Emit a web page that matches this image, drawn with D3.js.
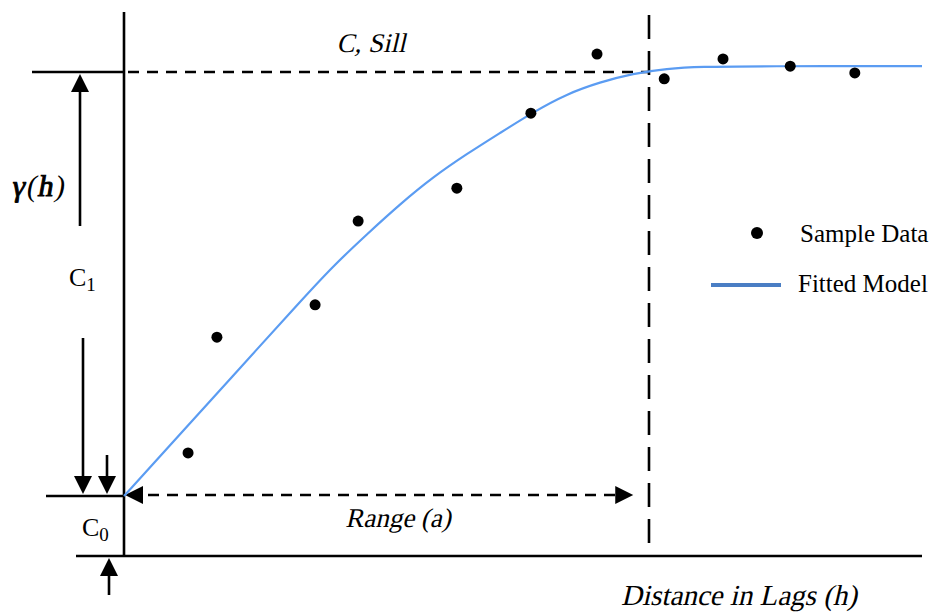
<!DOCTYPE html>
<html>
<head>
<meta charset="utf-8">
<script src="https://cdn.jsdelivr.net/npm/d3@7"></script>
<style>
  html, body { margin: 0; padding: 0; background: #fff; }
  svg { display: block; }
  .serif { font-family: "Liberation Serif", "Times New Roman", serif; font-style: normal; font-weight: normal; }
</style>
</head>
<body>
<svg id="chart" width="937" height="614"></svg>
<script>
// ---------- data ----------
const sampleLag   = [1.22, 1.77, 3.64, 4.46, 6.34, 7.75, 9.01, 10.29, 11.41, 12.69, 13.92];
const sampleGamma = [0.213, 0.452, 0.519, 0.692, 0.760, 0.915, 1.037, 0.986, 1.027, 1.012, 0.998];

const modelLag   = [0, 0.838, 1.676, 2.514, 3.352, 3.981, 4.629, 5.257, 5.886, 6.533, 7.162, 7.790, 8.438, 9.067, 9.695, 10.343, 10.971, 12.114, 15.2];
const modelGamma = [0.124, 0.224, 0.324, 0.425, 0.525, 0.599, 0.665, 0.727, 0.783, 0.831, 0.874, 0.917, 0.955, 0.979, 0.997, 1.007, 1.011, 1.012, 1.012];

const nuggetC0 = 0.124;   // C0
const sillC    = 1.0;     // C, Sill
const rangeA   = 10;      // Range (a)

const legendLabels = ["Sample Data", "Fitted Model"];
const annotationLabels = { sill: "C, Sill", range: "Range (a)", xTitle: "Distance in Lags (h)" };

// ---------- scales ----------
const x = d3.scaleLinear().domain([0, 15.2]).range([124, 922]);
const y = d3.scaleLinear().domain([0, 1]).range([556, 72]);

const svg = d3.select("#chart");

function arrowHead(g, tx, ty, dir) {
  const L = 18, W = 9;
  let pts;
  if (dir === "up")    pts = [[tx, ty], [tx - W, ty + L], [tx + W, ty + L]];
  if (dir === "down")  pts = [[tx, ty], [tx - W, ty - L], [tx + W, ty - L]];
  if (dir === "left")  pts = [[tx, ty], [tx + L, ty - W], [tx + L, ty + W]];
  if (dir === "right") pts = [[tx, ty], [tx - L, ty - W], [tx - L, ty + W]];
  g.append("path").attr("d", "M" + pts.map(p => p.join(",")).join("L") + "Z").attr("fill", "#000");
}
function vline(x0, y1, y2, dash, w) {
  svg.append("line").attr("x1", x0).attr("x2", x0).attr("y1", y1).attr("y2", y2)
    .attr("stroke", "#000").attr("stroke-width", w || 2.6).attr("stroke-dasharray", dash || null);
}
function hline(y0, x1, x2, dash, w) {
  svg.append("line").attr("x1", x1).attr("x2", x2).attr("y1", y0).attr("y2", y0)
    .attr("stroke", "#000").attr("stroke-width", w || 2.6).attr("stroke-dasharray", dash || null);
}

const x0 = x(0), xa = x(rangeA);
const yBase = y(0), ySill = y(sillC), yNug = y(nuggetC0);

// ---------- frame lines ----------
vline(x0, 12, yBase);
hline(yBase, 76, 922);
hline(ySill, 32, x0);
hline(ySill, x0 + 4, xa, "11,8", 2.4);
hline(yNug, 46, x0);
vline(xa, 15, yBase, "24,12", 2.6);

// ---------- dimension arrows ----------
const ga = svg.append("g");
vline(80, 226, ySill + 16, null, 2.6);
arrowHead(ga, 80, ySill + 2, "up");
vline(83, 338, yNug - 16, null, 2.6);
arrowHead(ga, 83, yNug - 2, "down");
vline(107, 455, yNug - 16, null, 2.6);
arrowHead(ga, 107, yNug - 2, "down");
vline(109, 595, yBase + 18, null, 2.6);
arrowHead(ga, 109, yBase + 2, "up");
hline(yNug - 1, x0 + 24, x(9.7) - 16, "11,8", 2.4);
arrowHead(ga, x0 + 1, yNug - 1, "left");
arrowHead(ga, x(9.7), yNug - 1, "right");

// ---------- fitted model ----------
const line = d3.line().x((d, i) => x(modelLag[i])).y((d, i) => y(modelGamma[i])).curve(d3.curveBasis);
svg.append("path").datum(modelLag).attr("d", line)
  .attr("fill", "none").attr("stroke", "#5b9cf2").attr("stroke-width", 2.2);

// ---------- sample points ----------
svg.append("g").selectAll("circle").data(sampleLag).join("circle")
  .attr("cx", (d) => x(d)).attr("cy", (d, i) => y(sampleGamma[i])).attr("r", 5.5).attr("fill", "#000");

// ---------- text ----------
// only the upright serif face is installed, so italics are drawn as a slanted upright face
function label(xp, yp, size, txt, opts) {
  opts = opts || {};
  const t = svg.append("text").attr("class", "serif")
    .attr("text-anchor", opts.anchor || "start")
    .style("font-size", size + "px").text(txt);
  if (opts.italic) t.attr("x", 0).attr("y", 0).attr("transform", `translate(${xp},${yp}) skewX(-13)`);
  else t.attr("x", xp).attr("y", yp);
  return t;
}
label(371, 52, 27, annotationLabels.sill, { anchor: "middle", italic: true });
label(398, 527, 27, annotationLabels.range, { anchor: "middle", italic: true });
label(739, 605, 29, annotationLabels.xTitle, { anchor: "middle", italic: true });

// gamma(h) — bold italic symbols, upright parentheses
const gt = label(11, 195, 30, "", {});
gt.style("letter-spacing", "1.5px");
gt.append("tspan").attr("stroke", "#000").attr("stroke-width", 1).text("\u03B3");
gt.append("tspan").text("(");
gt.append("tspan").attr("stroke", "#000").attr("stroke-width", 1).text("h");
gt.append("tspan").text(")");
gt.attr("x", 0).attr("y", 0).attr("transform", "translate(11,196) skewX(-10)");

// C1, C0
const c1 = label(69, 286, 26, "", {});
c1.append("tspan").text("C");
c1.append("tspan").attr("dy", 5).style("font-size", "19px").text("1");
const c0 = label(82, 536, 26, "", {});
c0.append("tspan").text("C");
c0.append("tspan").attr("dy", 5).style("font-size", "19px").text("0");

// ---------- legend ----------
const lg = svg.append("g");
lg.append("circle").attr("cx", 757).attr("cy", 233).attr("r", 6).attr("fill", "#000");
label(800, 242, 25, legendLabels[0], {});
lg.append("line").attr("x1", 711).attr("x2", 781).attr("y1", 285).attr("y2", 285)
  .attr("stroke", "#4a7ec4").attr("stroke-width", 4);
label(798, 292, 25, legendLabels[1], {});
</script>
</body>
</html>
